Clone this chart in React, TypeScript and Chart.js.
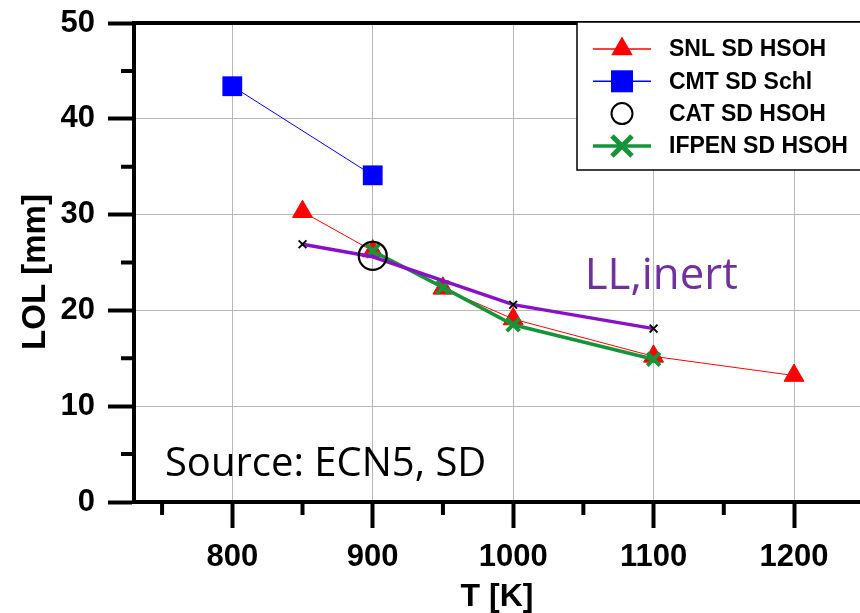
import React, { useEffect, useRef } from 'react';
import { Chart, registerables } from 'chart.js';

Chart.register(...registerables);

// ---- axis ticks ----
const xTicks = [800, 900, 1000, 1100, 1200];
const xMinorTicks = [750, 850, 950, 1050, 1150];
const yTicks = [0, 10, 20, 30, 40, 50];
const yMinorTicks = [5, 15, 25, 35, 45];

// ---- series ----
const snlT = [850, 900, 950, 1000, 1100, 1200];
const snlLOL = [30.3, 26.2, 22.3, 19.1, 15.2, 13.2];
const cmtT = [800, 900];
const cmtLOL = [43.4, 34.1];
const catT = [900];
const catLOL = [25.7];
const ifpenT = [900, 950, 1000, 1100];
const ifpenLOL = [26.2, 22.4, 18.5, 14.9];
const llT = [850, 900, 1000, 1100];
const llLOL = [26.9, 25.6, 20.6, 18.1];

const seriesNames = ['SNL SD HSOH', 'CMT SD Schl', 'CAT SD HSOH', 'IFPEN SD HSOH', 'LL,inert'];
const xTitle = 'T [K]';
const yTitle = 'LOL [mm]';
const sourceText = 'Source: ECN5, SD';
const llText = 'LL,inert';

const pts = (xs: number[], ys: number[]) => xs.map((x, i) => ({ x, y: ys[i] }));

const RED = '#FF0000';
const BLUE = '#0000FF';
const GREEN = '#16943A';
const PURPLE = '#8A10C8';
const TEXT_PURPLE = '#7030A0';
const GRID = '#B8B8B8';
const BOLD = '"Liberation Sans", Arial, sans-serif';
const LIGHT = '"Open Sans", "Noto Sans", sans-serif';

function drawMarker(ctx: CanvasRenderingContext2D, style: string, x: number, y: number, color: string) {
  ctx.save();
  ctx.fillStyle = color;
  ctx.strokeStyle = color;
  if (style === 'triangle') {
    const r = 12.5;
    ctx.beginPath();
    ctx.moveTo(x, y - r);
    ctx.lineTo(x + r * Math.sin(Math.PI * 2 / 3), y + r / 2);
    ctx.lineTo(x - r * Math.sin(Math.PI * 2 / 3), y + r / 2);
    ctx.closePath();
    ctx.fill();
  } else if (style === 'rect') {
    ctx.fillRect(x - 11, y - 11, 22, 22);
  } else if (style === 'circle') {
    ctx.lineWidth = 2;
    ctx.beginPath();
    ctx.arc(x, y, 10.5, 0, Math.PI * 2);
    ctx.stroke();
  } else if (style === 'crossRot') {
    ctx.lineWidth = 5;
    ctx.beginPath();
    ctx.moveTo(x - 10, y - 10);
    ctx.lineTo(x + 10, y + 10);
    ctx.moveTo(x + 10, y - 10);
    ctx.lineTo(x - 10, y + 10);
    ctx.stroke();
  }
  ctx.restore();
}

const decorPlugin = {
  id: 'decor',
  afterDraw(chart: any) {
    const { ctx, chartArea } = chart;
    const xs = chart.scales.x;
    const ys = chart.scales.y;
    ctx.save();
    // minor ticks
    ctx.strokeStyle = '#000';
    ctx.lineWidth = 4;
    ctx.beginPath();
    xMinorTicks.forEach((v) => {
      const px = xs.getPixelForValue(v);
      if (px < chartArea.left || px > chartArea.right) return;
      ctx.moveTo(px, chartArea.bottom);
      ctx.lineTo(px, chartArea.bottom + 13);
    });
    yMinorTicks.forEach((v) => {
      const py = ys.getPixelForValue(v);
      ctx.moveTo(chartArea.left - 13, py);
      ctx.lineTo(chartArea.left, py);
    });
    ctx.stroke();
    // top frame
    ctx.beginPath();
    ctx.moveTo(chartArea.left, chartArea.top);
    ctx.lineTo(chartArea.right + 4, chartArea.top);
    ctx.stroke();

    // axis titles
    ctx.fillStyle = '#000';
    ctx.textAlign = 'center';
    ctx.textBaseline = 'middle';
    ctx.font = `bold 32px ${BOLD}`;
    ctx.fillText(xTitle, (chartArea.left + chartArea.right) / 2, 597);
    ctx.save();
    ctx.translate(36, 272);
    ctx.rotate(-Math.PI / 2);
    ctx.font = `bold 33px ${BOLD}`;
    ctx.fillText(yTitle, 0, 0);
    ctx.restore();

    // annotations
    ctx.textBaseline = 'alphabetic';
    ctx.textAlign = 'left';
    ctx.font = `40px ${LIGHT}`;
    ctx.fillStyle = '#000';
    ctx.fillText(sourceText, xs.getPixelForValue(752), ys.getPixelForValue(2.75), 326);
    ctx.font = `44px ${LIGHT}`;
    ctx.fillStyle = TEXT_PURPLE;
    ctx.fillText(llText, xs.getPixelForValue(1051), ys.getPixelForValue(22.2), 153);

    // legend
    const lx = 577, ly = 22, lw = 300, lh = 148;
    ctx.fillStyle = '#fff';
    ctx.fillRect(lx, ly, lw, lh);
    ctx.strokeStyle = '#000';
    ctx.lineWidth = 1.5;
    ctx.strokeRect(lx, ly, lw, lh);
    const items = chart.data.datasets.filter((d: any) => d.inLegend);
    items.forEach((d: any, i: number) => {
      const y = 49 + i * 32.3;
      if (d.showLine !== false) {
        ctx.strokeStyle = d.borderColor;
        ctx.lineWidth = Math.max(d.borderWidth, 1.5);
        ctx.beginPath();
        ctx.moveTo(593, y);
        ctx.lineTo(651, y);
        ctx.stroke();
      }
      drawMarker(ctx, d.pointStyle, 622, y, d.legendMarkerColor);
      ctx.fillStyle = '#000';
      ctx.font = `bold 23px ${BOLD}`;
      ctx.textBaseline = 'middle';
      ctx.fillText(d.label, 669, y + 1);
    });
    ctx.restore();
  },
};

export default function App() {
  const ref = useRef<HTMLCanvasElement | null>(null);
  useEffect(() => {
    if (!ref.current) return;
    const chart = new Chart(ref.current, {
      type: 'scatter',
      data: {
        datasets: [
          {
            label: seriesNames[0],
            data: pts(snlT, snlLOL),
            showLine: true,
            borderColor: RED,
            borderWidth: 1,
            pointStyle: 'triangle',
            pointRadius: 11.5,
            pointBackgroundColor: RED,
            pointBorderColor: RED,
            pointBorderWidth: 1,
            order: 4,
            inLegend: true,
            legendMarkerColor: RED,
          } as any,
          {
            label: seriesNames[1],
            data: pts(cmtT, cmtLOL),
            showLine: true,
            borderColor: BLUE,
            borderWidth: 1,
            pointStyle: 'rect',
            pointRadius: 14,
            pointBackgroundColor: BLUE,
            pointBorderColor: BLUE,
            pointBorderWidth: 0,
            order: 3,
            inLegend: true,
            legendMarkerColor: BLUE,
          } as any,
          {
            label: seriesNames[2],
            data: pts(catT, catLOL),
            showLine: false,
            borderColor: '#000',
            pointStyle: 'circle',
            pointRadius: 14,
            pointBackgroundColor: 'rgba(0,0,0,0)',
            pointBorderColor: '#000',
            pointBorderWidth: 2.2,
            order: 0,
            inLegend: true,
            legendMarkerColor: '#000',
          } as any,
          {
            label: seriesNames[3],
            data: pts(ifpenT, ifpenLOL),
            showLine: true,
            borderColor: GREEN,
            borderWidth: 3.5,
            pointStyle: 'crossRot',
            pointRadius: 9,
            pointBackgroundColor: GREEN,
            pointBorderColor: GREEN,
            pointBorderWidth: 4,
            order: 2,
            inLegend: true,
            legendMarkerColor: GREEN,
          } as any,
          {
            label: seriesNames[4],
            data: pts(llT, llLOL),
            showLine: true,
            borderColor: PURPLE,
            borderWidth: 3.5,
            pointStyle: 'crossRot',
            pointRadius: [5.5, 0, 5.5, 5.5],
            pointBackgroundColor: '#000',
            pointBorderColor: '#000',
            pointBorderWidth: 1.8,
            order: 1,
            inLegend: false,
          } as any,
        ],
      },
      options: {
        animation: false,
        responsive: false,
        layout: { autoPadding: false, padding: { top: 23, left: 0, right: 0, bottom: 0 } },
        plugins: {
          legend: { display: false },
          tooltip: { enabled: false },
        },
        elements: { line: { tension: 0 } },
        scales: {
          x: {
            type: 'linear',
            position: 'bottom',
            min: 730,
            max: 1247,
            afterBuildTicks: (s: any) => {
              s.ticks = xTicks.map((v) => ({ value: v }));
            },
            afterFit: (s: any) => {
              s.height = 111;
            },
            ticks: {
              color: '#000',
              font: { family: BOLD, size: 31, weight: 'bold' },
              padding: 11,
              maxRotation: 0,
              callback: (v: any) => String(v),
            },
            grid: {
              color: GRID,
              lineWidth: 1,
              drawTicks: true,
              tickLength: 26,
              tickWidth: 4,
              tickColor: '#000',
            },
            border: { display: true, color: '#000', width: 4 },
            title: { display: false },
          },
          y: {
            type: 'linear',
            min: 0,
            max: 50,
            afterBuildTicks: (s: any) => {
              s.ticks = yTicks.map((v) => ({ value: v }));
            },
            afterFit: (s: any) => {
              s.width = 134;
              s.paddingTop = 0;
              s.paddingBottom = 0;
            },
            ticks: {
              color: '#000',
              font: { family: BOLD, size: 31, weight: 'bold', lineHeight: 0.6 },
              padding: 13,
              callback: (v: any) => String(v),
            },
            grid: {
              color: (c: any) =>
                c.tick && (c.tick.value === 0 || c.tick.value === 50) ? 'rgba(0,0,0,0)' : GRID,
              lineWidth: 1,
              drawTicks: true,
              tickLength: 26,
              tickWidth: 4,
              tickColor: '#000',
            },
            border: { display: true, color: '#000', width: 4 },
            title: { display: false },
          },
        },
      } as any,
      plugins: [decorPlugin],
    });
    return () => chart.destroy();
  }, []);

  return (
    <div style={{ position: 'fixed', left: 0, top: 0, width: 860, height: 613, background: '#fff' }}>
      <canvas ref={ref} width={860} height={613} style={{ width: 860, height: 613, display: 'block' }} />
    </div>
  );
}
